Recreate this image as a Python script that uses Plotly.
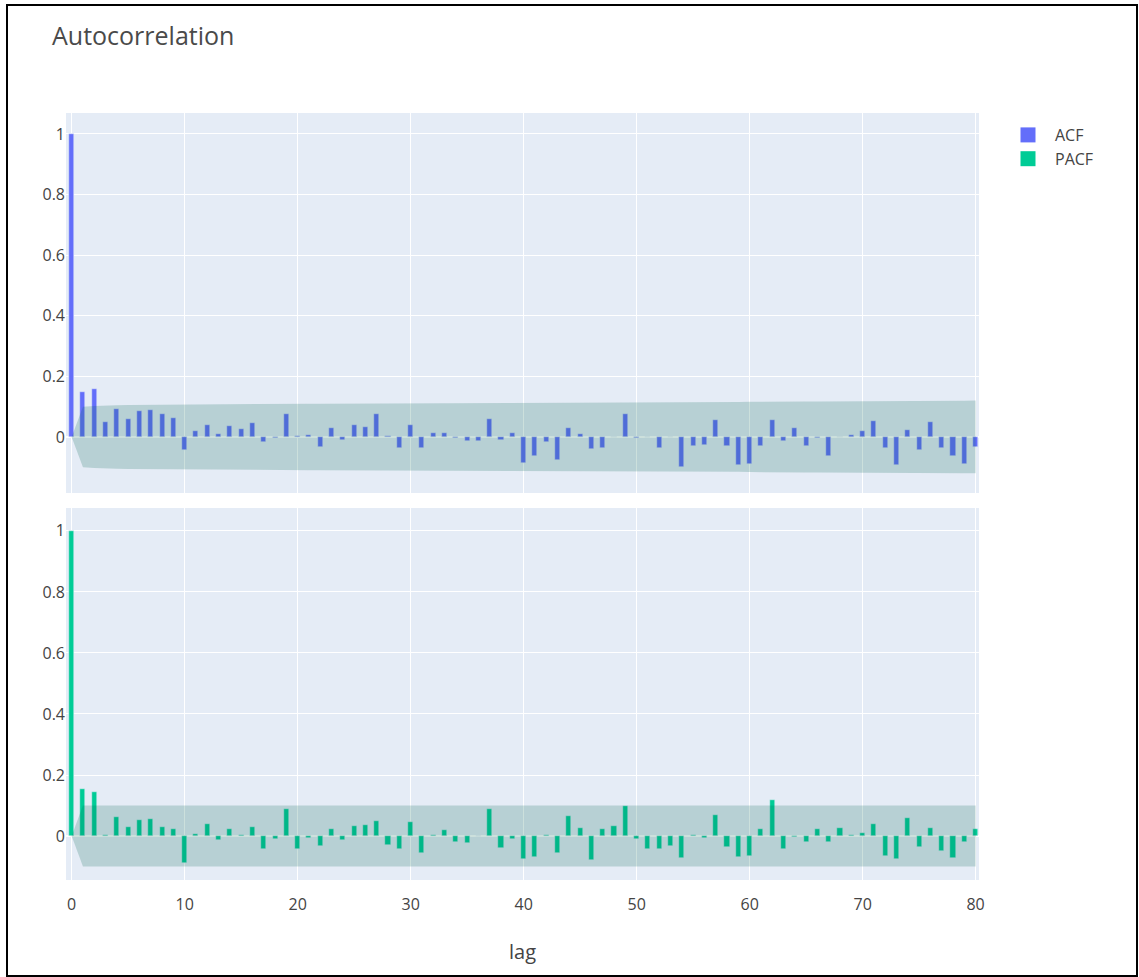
import numpy as np
import plotly.graph_objects as go
from plotly.subplots import make_subplots

lags = list(range(81))

acf_values = [
    1.0, 0.149, 0.157, 0.048, 0.091, 0.058, 0.086, 0.088, 0.075, 0.064,
    -0.044, 0.020, 0.041, 0.009, 0.037, 0.026, 0.047, -0.018, -0.004, 0.075,
    0.002, 0.006, -0.033, 0.030, -0.011, 0.041, 0.033, 0.077, 0.002, -0.038,
    0.041, -0.035, 0.014, 0.014, -0.002, -0.013, -0.013, 0.060, -0.011, 0.014,
    -0.086, -0.063, -0.018, -0.075, 0.031, 0.011, -0.040, -0.037, 0.001, 0.077,
    -0.003, 0.001, -0.038, 0.001, -0.099, -0.031, -0.025, 0.055, -0.029, -0.094,
    -0.088, -0.031, 0.055, -0.013, 0.030, -0.029, -0.003, -0.064, 0.001, 0.008,
    0.020, 0.053, -0.035, -0.094, 0.022, -0.044, 0.050, -0.038, -0.064, -0.088,
    -0.033,
]

pacf_values = [
    1.0, 0.154, 0.144, 0.004, 0.064, 0.031, 0.054, 0.057, 0.031, 0.024,
    -0.088, 0.008, 0.038, -0.014, 0.024, 0.005, 0.029, -0.041, -0.011, 0.088,
    -0.042, -0.005, -0.033, 0.024, -0.012, 0.033, 0.035, 0.049, -0.030, -0.042,
    0.047, -0.057, 0.002, 0.021, -0.020, -0.022, 0.001, 0.090, -0.038, -0.011,
    -0.074, -0.067, 0.003, -0.057, 0.066, 0.025, -0.078, 0.022, 0.033, 0.097,
    -0.011, -0.041, -0.041, -0.033, -0.071, 0.005, -0.005, 0.068, -0.036, -0.069,
    -0.064, 0.022, 0.119, -0.044, -0.003, -0.020, 0.024, -0.020, 0.025, 0.005,
    0.011, 0.038, -0.066, -0.074, 0.060, -0.035, 0.025, -0.049, -0.071, -0.020,
    0.022,
]

y_tick_vals = [0, 0.2, 0.4, 0.6, 0.8, 1]
y_tick_text = ["0", "0.2", "0.4", "0.6", "0.8", "1"]
x_tick_vals = [0, 10, 20, 30, 40, 50, 60, 70, 80]

n_obs = 384  # sample size implied by the +/-0.1 band at lag 1
z = 1.96

# Confidence bands (statsmodels convention: Bartlett for ACF, 1/sqrt(n) for PACF)
acf_arr = np.array(acf_values)
cum = np.concatenate([[0.0], np.cumsum(acf_arr[1:] ** 2)])
acf_band = np.zeros(len(lags))
for k in range(1, len(lags)):
    acf_band[k] = z * np.sqrt((1 + 2 * cum[k - 1]) / n_obs)
pacf_band = np.zeros(len(lags))
pacf_band[1:] = z / np.sqrt(n_obs)

fig = make_subplots(rows=2, cols=1, shared_xaxes=True, vertical_spacing=0.02)

band_fill = "rgba(0,100,80,0.2)"
clear = "rgba(255,255,255,0)"
acf_color = "#636efa"
pacf_color = "#00cc96"

fig.add_trace(go.Bar(x=lags, y=acf_values, name="ACF", marker_color=acf_color, width=0.45,
                     legendgroup="acf", showlegend=False), row=1, col=1)
fig.add_trace(go.Scatter(x=lags, y=acf_band, mode="lines", line=dict(color=clear), showlegend=False, hoverinfo="skip"), row=1, col=1)
fig.add_trace(go.Scatter(x=lags, y=-acf_band, mode="lines", line=dict(color=clear), fill="tonexty",
                         fillcolor=band_fill, showlegend=False, hoverinfo="skip"), row=1, col=1)

fig.add_trace(go.Bar(x=lags, y=pacf_values, name="PACF", marker_color=pacf_color, width=0.45,
                     legendgroup="pacf", showlegend=False), row=2, col=1)
fig.add_trace(go.Scatter(x=lags, y=pacf_band, mode="lines", line=dict(color=clear), showlegend=False, hoverinfo="skip"), row=2, col=1)
fig.add_trace(go.Scatter(x=lags, y=-pacf_band, mode="lines", line=dict(color=clear), fill="tonexty",
                         fillcolor=band_fill, showlegend=False, hoverinfo="skip"), row=2, col=1)

# legend entries (larger square swatches)
fig.add_trace(go.Scatter(x=[None], y=[None], mode="markers", name="ACF", legendgroup="acf",
                         marker=dict(symbol="square", size=15, color=acf_color)), row=1, col=1)
fig.add_trace(go.Scatter(x=[None], y=[None], mode="markers", name="PACF", legendgroup="pacf",
                         marker=dict(symbol="square", size=15, color=pacf_color)), row=2, col=1)

# geometry (pixels of the 1139x977 page)
W, H = 1139, 977
pl, pr, pt, pb = 66, 979, 113, 880
top_bottom_px, bot_top_px = 493, 508
ph = pb - pt
pw = pr - pl

fig.update_layout(
    width=W, height=H,
    template="plotly",
    font=dict(size=16, color="#444"),
    margin=dict(l=pl, r=W - pr, t=pt, b=H - pb, autoexpand=False),
    title=dict(text="Autocorrelation", x=52 / W, xanchor="left", y=1 - 36 / H, yanchor="middle",
               font=dict(size=25, color="#4a4a4a")),
    showlegend=True,
    legend=dict(traceorder="normal", x=(1001 - pl) / pw, xanchor="left", y=1 - (118 - pt) / ph,
                yanchor="top", itemwidth=44, font=dict(size=16)),
    bargap=0,
)
fig.update_xaxes(range=[-0.5, 80.3], tickvals=x_tick_vals, showgrid=True, tickfont=dict(size=16),
                 ticks="outside", ticklen=10, tickcolor="rgba(0,0,0,0)")
fig.update_xaxes(title_text="lag", title_font=dict(size=20), title_standoff=30, row=2, col=1)
fig.update_yaxes(tickvals=y_tick_vals, ticktext=y_tick_text, tickfont=dict(size=16))
fig.update_layout(
    yaxis=dict(domain=[(pb - top_bottom_px) / ph, 1], range=[-0.185, 1.069]),
    yaxis2=dict(domain=[0, (pb - bot_top_px) / ph], range=[-0.144, 1.075]),
)

# outer frame of the picture
fig.add_shape(type="rect", xref="paper", yref="paper",
              x0=(7 - pl) / pw, x1=(1137 - pl) / pw,
              y0=(pb - 976) / ph, y1=(pb - 5) / ph,
              line=dict(color="black", width=2), fillcolor="rgba(0,0,0,0)", layer="above")

fig.write_html("out.html", config={"displayModeBar": False},
               post_script="document.body.style.margin='0px';document.body.style.overflow='hidden';")
